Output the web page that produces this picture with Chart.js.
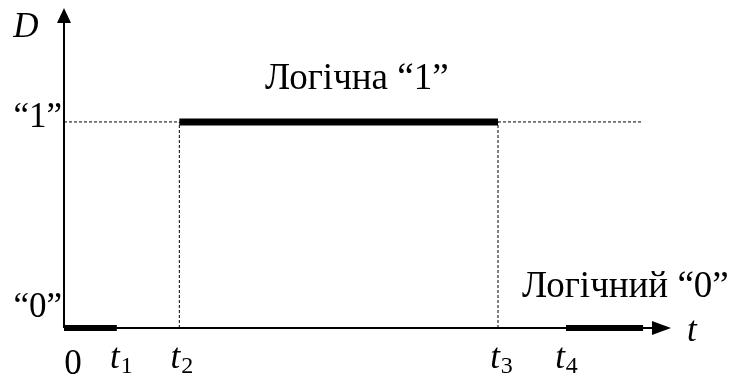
<!DOCTYPE html>
<html>
<head>
<meta charset="utf-8">
<script src="https://cdn.jsdelivr.net/npm/chart.js@4/dist/chart.umd.min.js"></script>
<style>
  html, body { margin: 0; padding: 0; background: #fff; }
  #wrap { width: 732px; height: 376px; }
</style>
</head>
<body>
<div id="wrap"><canvas id="logicChart" width="732" height="376"></canvas></div>
<script>
// моменты времени на оси t
const tickTimes = [0, 8.7, 19, 71.5, 82.7];
const tickNames = ["0", "t", "t", "t", "t"];
const tickSubs = ["", "1", "2", "3", "4"];
const endTime = 95.4;

// уровни сигнала D
const levelValues = [0, 1];
const levelNames = ["“0”", "“1”"];
const levelCaptions = ["Логічний “0”", "Логічна “1”"];

// участки, где сигнал держит уровень
const zeroSegments = [[tickTimes[0], tickTimes[1]], [tickTimes[4], endTime]];
const oneSegments = [[tickTimes[2], tickTimes[3]]];

const serif = "'Liberation Serif', 'DejaVu Serif', serif";

function seg(a, b, level) {
  return [{ x: a, y: level }, { x: b, y: level }];
}

const datasets = [];

// пунктир: уровень "1" и вертикальные переходы
const dotted = { borderColor: "#000", borderWidth: 1, borderDash: [3, 2], pointRadius: 0, showLine: true, clip: false };
datasets.push(Object.assign({ data: seg(tickTimes[0], tickTimes[2], levelValues[1]) }, dotted));
datasets.push(Object.assign({ data: seg(tickTimes[3], endTime, levelValues[1]) }, dotted));
datasets.push(Object.assign({ data: [{ x: tickTimes[2], y: levelValues[0] }, { x: tickTimes[2], y: levelValues[1] }] }, dotted));
datasets.push(Object.assign({ data: [{ x: tickTimes[3], y: levelValues[0] }, { x: tickTimes[3], y: levelValues[1] }] }, dotted));

// жирные отрезки
oneSegments.forEach(s => {
  datasets.push({ data: seg(s[0], s[1], levelValues[1]), borderColor: "#000", borderWidth: 7, pointRadius: 0, showLine: true, clip: false, borderCapStyle: "butt" });
});
zeroSegments.forEach(s => {
  datasets.push({ data: seg(s[0], s[1], levelValues[0]), borderColor: "#000", borderWidth: 6, pointRadius: 0, showLine: true, clip: false, borderCapStyle: "butt" });
});

// оси со стрелками и подписи
const axesPlugin = {
  id: "axesPlugin",
  beforeDatasetsDraw(chart) {
    const ctx = chart.ctx;
    const a = chart.chartArea;
    ctx.save();
    ctx.strokeStyle = "#000";
    ctx.fillStyle = "#000";
    ctx.lineWidth = 2;
    ctx.beginPath();
    ctx.moveTo(a.left, a.bottom);
    ctx.lineTo(a.left, a.top + 10);
    ctx.moveTo(a.left, a.bottom);
    ctx.lineTo(a.right - 10, a.bottom);
    ctx.stroke();
    // стрелка оси D
    ctx.beginPath();
    ctx.moveTo(a.left, a.top);
    ctx.lineTo(a.left - 7, a.top + 15);
    ctx.lineTo(a.left + 7, a.top + 15);
    ctx.closePath();
    ctx.fill();
    // стрелка оси t
    ctx.beginPath();
    ctx.moveTo(a.right, a.bottom);
    ctx.lineTo(a.right - 19, a.bottom - 7);
    ctx.lineTo(a.right - 19, a.bottom + 7);
    ctx.closePath();
    ctx.fill();
    ctx.restore();
  },
  afterDraw(chart) {
    const ctx = chart.ctx;
    const a = chart.chartArea;
    const xs = chart.scales.x;
    const ys = chart.scales.y;
    ctx.save();
    ctx.fillStyle = "#000";
    ctx.textBaseline = "alphabetic";

    // названия осей
    ctx.font = "italic 35px " + serif;
    ctx.textAlign = "center";
    ctx.fillText("D", 26, 37);
    ctx.textAlign = "left";
    ctx.fillText("t", a.right + 16, 341);

    // уровни "0" и "1"
    ctx.font = "35px " + serif;
    ctx.textAlign = "right";
    levelValues.forEach((v, i) => {
      ctx.fillText(levelNames[i], a.left - 2, ys.getPixelForValue(v) + (i === 0 ? -11 : 5));
    });

    // подписи уровней
    ctx.font = "37px " + serif;
    ctx.textAlign = "left";
    ctx.fillText(levelCaptions[1], 265, 89);
    ctx.fillText(levelCaptions[0], 522, 297);

    // метки времени с индексами
    const shift = [9, 4, 2, 3, 0];
    tickTimes.forEach((t, i) => {
      const px = xs.getPixelForValue(t) + shift[i];
      if (tickSubs[i] === "") {
        ctx.font = "35px " + serif;
        ctx.textAlign = "center";
        ctx.fillText(tickNames[i], px, 374);
        return;
      }
      ctx.font = "italic 35px " + serif;
      const w1 = ctx.measureText(tickNames[i]).width;
      ctx.font = "24px " + serif;
      const w2 = ctx.measureText(tickSubs[i]).width;
      const left = px - (w1 + w2) / 2;
      ctx.textAlign = "left";
      ctx.font = "italic 35px " + serif;
      ctx.fillText(tickNames[i], left, 368);
      ctx.font = "24px " + serif;
      ctx.fillText(tickSubs[i], left + w1 + 1, 373);
    });
    ctx.restore();
  }
};

new Chart(document.getElementById("logicChart").getContext("2d"), {
  type: "scatter",
  data: { datasets: datasets },
  options: {
    responsive: false,
    animation: false,
    layout: { padding: { left: 64, top: 8, right: 61, bottom: 48 } },
    plugins: { legend: { display: false }, tooltip: { enabled: false } },
    scales: {
      x: { type: "linear", min: 0, max: 100, display: false },
      y: { type: "linear", min: 0, max: 1.553, display: false }
    }
  },
  plugins: [axesPlugin]
});
</script>
</body>
</html>
